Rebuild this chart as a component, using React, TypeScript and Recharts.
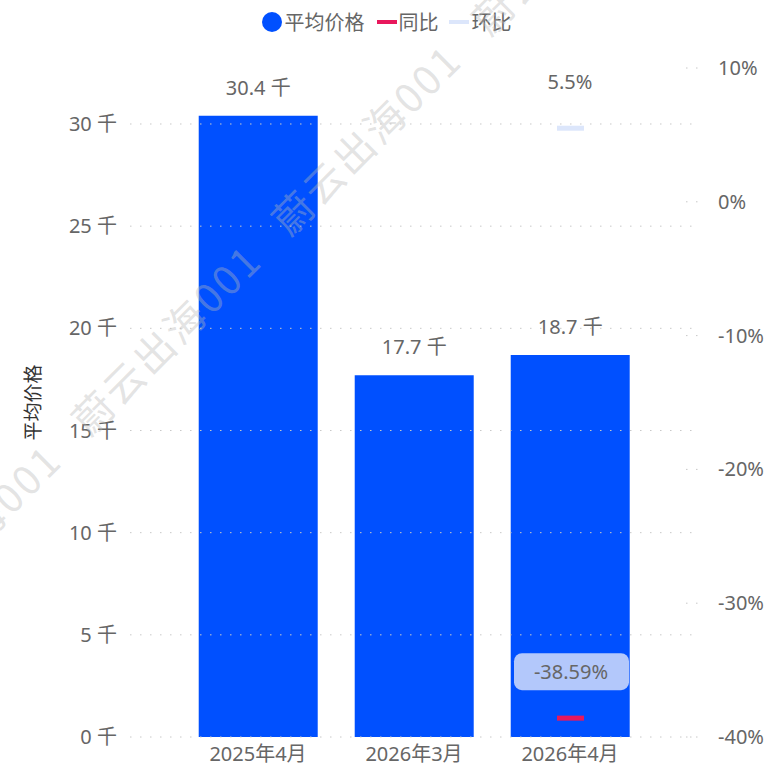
import { ComposedChart, Bar, Line, XAxis, YAxis, ReferenceLine, LabelList } from 'recharts';

const CATEGORIES = ['2025年4月', '2026年3月', '2026年4月'];
const AVG_PRICE = [30400, 17700, 18700];
const YOY = [null, null, -38.59];
const MOM = [null, null, 5.5];
const LEFT_TICKS = [0, 5000, 10000, 15000, 20000, 25000, 30000];
const RIGHT_TICKS = [-40, -30, -20, -10, 0, 10];

const BLUE = '#0050ff';
const RED = '#e8185c';
const LIGHT = '#dce6fb';
const TEXT = '#666';
const FONT = '"Noto Sans", "Noto Sans CJK SC", sans-serif';
const FS = 20;

const data = CATEGORIES.map((name, i) => ({ name, avg: AVG_PRICE[i], yoy: YOY[i], mom: MOM[i] }));

const dash = (color: string) => (props: any) => {
  const { cx, cy, index } = props;
  if (cy == null || cx == null) return <g key={`d-${index}`} />;
  return <rect key={`d-${index}`} x={cx - 13} y={cy - 2.5} width={27} height={5} fill={color} />;
};

const RightTick = ({ x, y, payload }: any) => (
  <g>
    <line x1={x - 32} x2={x - 20} y1={y} y2={y} stroke="#c8c8c8" strokeDasharray="1.5 8.5" />
    <text x={x} y={y} dy={7} fill={TEXT} fontSize={FS} fontFamily={FONT}>{payload.value}%</text>
  </g>
);

const momLabel = (props: any) => {
  const { x, y, value, index } = props;
  if (value == null) return null;
  return (
    <text key={`m-${index}`} x={x} y={y - 46} dy={7} textAnchor="middle" fill={TEXT} fontSize={FS} fontFamily={FONT}>
      {value}%
    </text>
  );
};

const yoyLabel = (props: any) => {
  const { x, y, value, index } = props;
  if (value == null) return null;
  return (
    <g key={`y-${index}`}>
      <rect x={x - 56} y={y - 65} width={115} height={37} rx={8} fill="#b3c8fb" />
      <text x={x + 1} y={y - 46} dy={7} textAnchor="middle" fill={TEXT} fontSize={FS} fontFamily={FONT}>
        {value.toFixed(2)}%
      </text>
    </g>
  );
};

const axisTitle = (props: any) => {
  const { viewBox } = props;
  const cy = viewBox.y + viewBox.height / 2;
  return (
    <text x={0} y={0} transform={`translate(40, ${cy}) rotate(-90)`} textAnchor="middle" fill="#333" fontSize={19} fontFamily={FONT}>
      平均价格
    </text>
  );
};

const WATERMARKS = [
  { left: 58, top: 406 },
  { left: 258, top: 206 },
  { left: -142, top: 606 },
  { left: 458, top: 6 },
];

export default function App() {
  return (
    <div style={{ position: 'absolute', left: 0, top: 0, width: 771, height: 769, background: '#fff', fontFamily: FONT, overflow: 'hidden' }}>
      <div style={{ position: 'absolute', top: 7, left: 1, width: 771, display: 'flex', justifyContent: 'center', alignItems: 'center', fontSize: FS, color: TEXT }}>
        <div style={{ width: 20, height: 20, borderRadius: 10, background: BLUE, marginRight: 3 }} />
        <span style={{ marginRight: 12 }}>平均价格</span>
        <div style={{ width: 20, height: 4, background: RED, marginRight: 2 }} />
        <span style={{ marginRight: 10 }}>同比</span>
        <div style={{ width: 20, height: 4, background: LIGHT, marginRight: 3 }} />
        <span>环比</span>
      </div>
      <div style={{ position: 'absolute', left: 0, top: 0 }}>
        <ComposedChart width={771} height={769} data={data} margin={{ top: 68, right: 0, bottom: 0, left: 0 }} barCategoryGap="12%">
          <XAxis dataKey="name" height={32} padding={{ left: 50, right: 50 }} axisLine={false} tickLine={false}
            tickMargin={4} tick={{ fill: TEXT, fontSize: FS, fontFamily: FONT }} />
          <YAxis yAxisId="left" width={130} domain={[0, 32740]} ticks={LEFT_TICKS} axisLine={false} tickLine={false}
            tickMargin={7} tick={{ fill: TEXT, fontSize: FS, fontFamily: FONT }}
            tickFormatter={(v: number) => `${v / 1000} 千`}
            label={{ content: axisTitle }} />
          <YAxis yAxisId="right" orientation="right" width={73} domain={[-40, 10]} ticks={RIGHT_TICKS}
            axisLine={false} tickLine={false} tickSize={0} tickMargin={20} tick={<RightTick />} />
          {LEFT_TICKS.map((t) => (
            <ReferenceLine key={t} yAxisId="left" y={t} stroke="#c8c8c8" strokeDasharray="1.5 8.5" />
          ))}
          <Bar yAxisId="left" dataKey="avg" fill={BLUE} isAnimationActive={false}>
            <LabelList dataKey="avg" position="top" offset={21} fill={TEXT} fontSize={FS} fontFamily={FONT}
              formatter={(v: any) => `${(v / 1000).toFixed(1)} 千`} />
          </Bar>
          <Line yAxisId="right" dataKey="yoy" stroke={RED} strokeWidth={0} dot={dash(RED)} activeDot={false} isAnimationActive={false}>
            <LabelList dataKey="yoy" content={yoyLabel} />
          </Line>
          <Line yAxisId="right" dataKey="mom" stroke={LIGHT} strokeWidth={0} dot={dash(LIGHT)} activeDot={false} isAnimationActive={false}>
            <LabelList dataKey="mom" content={momLabel} />
          </Line>
        </ComposedChart>
      </div>
      {WATERMARKS.map((w, i) => (
        <div key={i} style={{
          position: 'absolute', left: w.left, top: w.top, fontSize: 40, lineHeight: '56px', color: 'rgba(185,185,185,0.4)',
          transform: 'rotate(-45deg)', transformOrigin: '0 0', whiteSpace: 'nowrap', pointerEvents: 'none', letterSpacing: 3,
          fontFamily: '"Noto Sans CJK SC", sans-serif',
        }}>
          蔚云出海001
        </div>
      ))}
    </div>
  );
}
